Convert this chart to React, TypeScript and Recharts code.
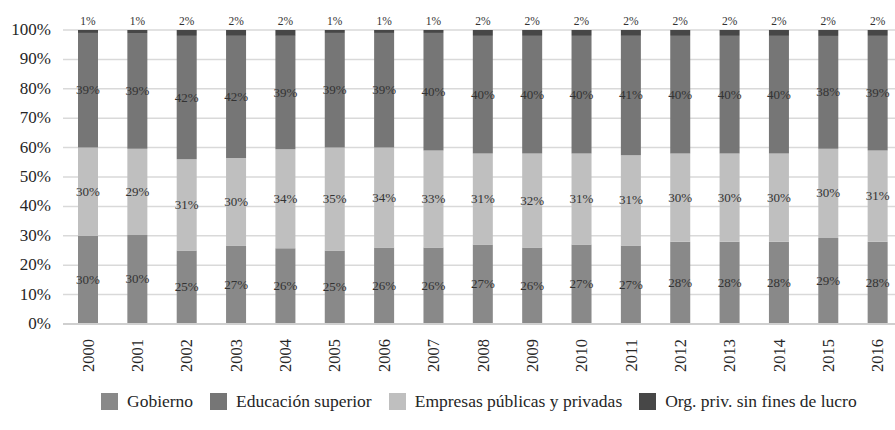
import React from "react";
import { BarChart, Bar, XAxis, YAxis, CartesianGrid, Legend, LabelList } from "recharts";

const years = ["2000","2001","2002","2003","2004","2005","2006","2007","2008","2009","2010","2011","2012","2013","2014","2015","2016"];
const gobierno = [30,30,25,27,26,25,26,26,27,26,27,27,28,28,28,29,28];
const empresas = [30,29,31,30,34,35,34,33,31,32,31,31,30,30,30,30,31];
const educacion = [39,39,42,42,39,39,39,40,40,40,40,41,40,40,40,38,39];
const org = [1,1,2,2,2,1,1,1,2,2,2,2,2,2,2,2,2];
const yTicks = [0,0.1,0.2,0.3,0.4,0.5,0.6,0.7,0.8,0.9,1];

const series = [
  { key: "gob", name: "Gobierno", color: "#898989", values: gobierno },
  { key: "emp", name: "Empresas públicas y privadas", color: "#bfbfbf", values: empresas },
  { key: "edu", name: "Educación superior", color: "#767676", values: educacion },
  { key: "org", name: "Org. priv. sin fines de lucro", color: "#474747", values: org },
];
const legendOrder = ["gob", "edu", "emp", "org"];

const data = years.map((y, i) => ({
  year: y,
  gob: gobierno[i],
  emp: empresas[i],
  edu: educacion[i],
  org: org[i],
}));

const FONT = "'Liberation Serif', 'Times New Roman', serif";

const centerLabel = (values: number[]) => (p: any) => {
  const { x, y, width, height, index } = p;
  return (
    <text x={x + width / 2} y={y + height / 2} dy={4} textAnchor="middle" fontFamily={FONT} fontSize={13} fill="#333">
      {values[index]}%
    </text>
  );
};

const topLabel = (values: number[]) => (p: any) => {
  const { x, y, width, index } = p;
  return (
    <text x={x + width / 2} y={y - 5} textAnchor="middle" fontFamily={FONT} fontSize={11.5} fill="#333">
      {values[index]}%
    </text>
  );
};

const XTick = (p: any) => {
  const { x, y, payload } = p;
  return (
    <g transform={`translate(${x},${y})`}>
      <text transform="rotate(-90)" x={-7} y={0} dy={6} textAnchor="end" fontFamily={FONT} fontSize={16.5} fill="#262626">
        {payload.value}
      </text>
    </g>
  );
};

const YTick = (p: any) => {
  const { x, y, payload } = p;
  return (
    <text x={x} y={y} dy={5} textAnchor="end" fontFamily={FONT} fontSize={17} fill="#262626">
      {Math.round(payload.value * 100)}%
    </text>
  );
};

const LegendContent = () => (
  <div style={{ display: "flex", justifyContent: "flex-start", paddingLeft: 101, fontFamily: FONT, fontSize: 17.5, color: "#262626", lineHeight: "20px" }}>
    {legendOrder.map((k) => {
      const s = series.find((d) => d.key === k)!;
      return (
        <div key={k} style={{ display: "flex", alignItems: "center", marginRight: 17, whiteSpace: "nowrap" }}>
          <span style={{ display: "inline-block", width: 17, height: 17, background: s.color, marginRight: 9 }} />
          <span>{s.name}</span>
        </div>
      );
    })}
  </div>
);

export default function App() {
  return (
    <div style={{ position: "absolute", left: 0, top: 0, width: 895, height: 430, overflow: "hidden", background: "#fff" }}>
      <BarChart
        width={910}
        height={430}
        data={data}
        stackOffset="expand"
        barSize={20}
        margin={{ top: 30, right: 8, left: 0, bottom: 40 }}
      >
        <CartesianGrid vertical={false} stroke="#d9d9d9" strokeWidth={1.5} />
        <XAxis
          dataKey="year"
          height={66}
          tick={<XTick />}
          tickLine={false}
          axisLine={{ stroke: "#cfcfcf", strokeWidth: 2 }}
          interval={0}
        />
        <YAxis
          width={63}
          domain={[0, 1]}
          ticks={yTicks}
          axisLine={false}
          tickLine={false}
          tickSize={0}
          tickMargin={12}
          tick={<YTick />}
        />
        <Legend
          layout="horizontal"
          verticalAlign="middle"
          align="center"
          wrapperStyle={{ top: 391, left: 0, width: 895 }}
          content={<LegendContent />}
        />
        {series.map((s) => (
          <Bar key={s.key} dataKey={s.key} name={s.name} stackId="a" fill={s.color} isAnimationActive={false}>
            <LabelList content={s.key === "org" ? topLabel(s.values) : centerLabel(s.values)} />
          </Bar>
        ))}
      </BarChart>
    </div>
  );
}
